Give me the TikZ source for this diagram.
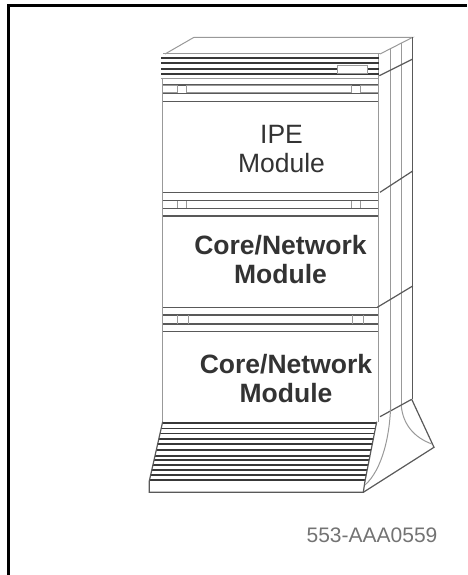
\documentclass[tikz,border=0pt]{standalone}
\usepackage{fontspec}
\setmainfont{Liberation Sans}
\tikzset{
  thinline/.style={draw=black!40, line width=1pt},
  midline/.style={draw=black!65, line width=1.2pt},
  slat/.style={draw=black!78, line width=2pt},
  label/.style={align=center, font=\fontsize{26.5}{29}\selectfont, text=black!80},
  boldlabel/.style={label, font=\fontsize{26.5}{29}\selectfont\bfseries},
}
\begin{document}
\begin{tikzpicture}[x=1pt,y=-1pt]
\useasboundingbox (0,0) rectangle (467,575);
\draw[line width=3pt] (8.5,575) -- (8.5,5.5) -- (467,5.5);
% top of cabinet
\draw[thinline] (165,54) -- (194,37.3) -- (412.7,37.3) -- (380,54);
\draw[midline] (412.7,37.3) -- (412.7,399.3);
\draw[thinline] (390.7,48.5) -- (390.7,400);
\draw[thinline] (401.3,43.5) -- (401.3,406);
\draw[thinline] (163,54) -- (380,54);
% front panels
\draw[thinline] (162.7,78) -- (162.7,421.7);
\draw[thinline] (378.3,54) -- (378.3,421.7);
\foreach \yy in {58.3,63.3,69,74.3} {
  \draw[slat] (161,\yy) -- (379,\yy);
}
\draw[thinline, line width=1.5pt] (161,78.7) -- (379,78.7);
\node[fill=white, inner sep=0pt, minimum width=29.3pt, minimum height=7.6pt] (badge) at (352.3,69.5) {};
\draw[thinline] (badge.north west) rectangle (badge.south east);
\draw[midline] (379.3,75.7) -- (412.7,59);
\draw[midline] (380,192.3) -- (412.7,171);
\draw[midline] (377.3,307.3) -- (412.7,286);
\draw[midline] (380,416.7) -- (411.7,399.3);
% first module
\draw[midline] (162.7,85) -- (378.3,85);
\draw[midline] (162.7,93.3) -- (378.3,93.3);
\draw[midline] (162.7,101.7) -- (378.3,101.7);
\draw[thinline] (162.7,86) rectangle (177.3,93);
\draw[thinline] (186.7,86) rectangle (351,93);
\draw[thinline] (360.7,86) rectangle (378,93);
\node[label] (ipe) at (281.5,149) {IPE\\Module};
% second module
\draw[midline] (162.7,192.3) -- (378.3,192.3);
\draw[midline] (162.7,200.7) -- (378.3,200.7);
\draw[midline] (162.7,208.3) -- (378.3,208.3);
\draw[midline] (162.7,216) -- (378.3,216);
\draw[thinline] (177.3,201) -- (177.3,208) (186.7,201) -- (186.7,208) (351,201) -- (351,208) (360.7,201) -- (360.7,208);
\node[boldlabel] (core1) at (280.5,260) {Core/Network\\Module};
% third module
\draw[midline] (162.7,307.3) -- (378.3,307.3);
\draw[midline] (162.7,315) -- (378.3,315);
\draw[midline] (162.7,324) -- (378.3,324);
\draw[midline] (162.7,331.7) -- (378.3,331.7);
\draw[thinline] (177.3,315) -- (177.3,324) (188.3,315) -- (188.3,324) (352.3,315) -- (352.3,324) (363.3,315) -- (363.3,324);
\node[boldlabel] (core2) at (286,378.5) {Core/Network\\Module};
% base
\foreach \yy/\xa/\xb in {422.7/162.5/376.5,428.3/161.2/375.4,433.3/160.1/374.4,439/158.8/373.3,444/157.7/372.3,450/156.3/371.1,455.7/155/370,460/154/369.1,465/152.9/368.2,470/151.8/367.2,475/150.7/366.2,480/149.5/365.2} {
  \draw[slat, line width=1.6pt] (\xa,\yy) -- (\xb,\yy);
}
\draw[midline] (162.7,421.7) -- (149.3,481) -- (149.3,492.3) -- (363.3,492.3) -- (365,481);
\draw[midline] (376.7,421.7) -- (365,481);
\draw[midline] (363.3,492.3) -- (434,447.3) -- (411.7,399.3);
\draw[thinline] (390.7,400) .. controls (390.7,435) and (382,470) .. (365,485);
\draw[thinline] (401.3,406) .. controls (403,425) and (415,438) .. (432,444);
\node[label, font=\fontsize{21}{24}\selectfont, text=black!55] (partno) at (372,535) {553-AAA0559};
\end{tikzpicture}
\end{document}
